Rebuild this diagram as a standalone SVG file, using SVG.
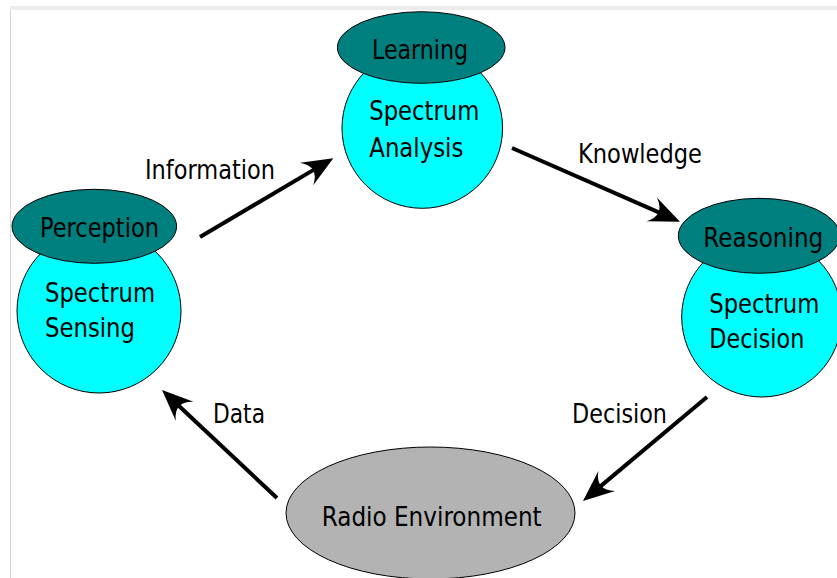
<svg xmlns="http://www.w3.org/2000/svg" width="837" height="578" viewBox="0 0 837 578">
<style>
.t{font-family:"DejaVu Sans Condensed","DejaVu Sans",sans-serif;font-stretch:condensed;font-size:27px;fill:#000}
.top{fill:#007f7f;stroke:#000;stroke-width:1}
.body{fill:#00ffff;stroke:#000;stroke-width:1}
.env{fill:#b3b3b3;stroke:#000;stroke-width:1}
.arrow{stroke:#000;stroke-width:4;fill:none;marker-end:url(#head)}
</style>
<defs>
<marker id="head" markerUnits="userSpaceOnUse" viewBox="-34 -15 36 30" markerWidth="36" markerHeight="30" refX="-20" refY="0" orient="auto">
<path d="M0,0 L-31,-13 Q-16,0 -31,13 Z" fill="#000"/>
</marker>
</defs>
<rect x="0" y="0" width="837" height="578" fill="#fff"/>
<rect x="10" y="6" width="827" height="4" fill="#ececec"/>
<line x1="10.5" y1="10" x2="10.5" y2="578" stroke="#d6d6d6" stroke-width="1"/>

<g id="connectors">
<line class="arrow" x1="200" y1="237" x2="316.1" y2="168.4"/>
<line class="arrow" x1="512" y1="148" x2="661.7" y2="213.7"/>
<line class="arrow" x1="707" y1="397" x2="598.3" y2="488.1"/>
<line class="arrow" x1="277" y1="498" x2="176.6" y2="403.7"/>
<text class="t" x="145" y="179" textLength="130" lengthAdjust="spacingAndGlyphs">Information</text>
<text class="t" x="578" y="163" textLength="124" lengthAdjust="spacingAndGlyphs">Knowledge</text>
<text class="t" x="572" y="423" textLength="95" lengthAdjust="spacingAndGlyphs">Decision</text>
<text class="t" x="213" y="423" textLength="52" lengthAdjust="spacingAndGlyphs">Data</text>
</g>

<g id="spectrum-analysis">
<circle class="body" cx="422.3" cy="128" r="80.3"/>
<ellipse class="top" cx="421.2" cy="47.5" rx="83.8" ry="35.8"/>
<text class="t" x="372" y="59" textLength="96" lengthAdjust="spacingAndGlyphs">Learning</text>
<text class="t" x="369.3" y="120" textLength="110" lengthAdjust="spacingAndGlyphs">Spectrum</text>
<text class="t" x="369.3" y="157" textLength="94" lengthAdjust="spacingAndGlyphs">Analysis</text>
</g>

<g id="spectrum-sensing">
<circle class="body" cx="99" cy="311" r="82"/>
<ellipse class="top" cx="94.3" cy="226.3" rx="82.3" ry="37"/>
<text class="t" x="40" y="237" textLength="119" lengthAdjust="spacingAndGlyphs">Perception</text>
<text class="t" x="45" y="302" textLength="110" lengthAdjust="spacingAndGlyphs">Spectrum</text>
<text class="t" x="45" y="337" textLength="90" lengthAdjust="spacingAndGlyphs">Sensing</text>
</g>

<g id="spectrum-decision">
<circle class="body" cx="761.7" cy="317" r="80"/>
<ellipse class="top" cx="759" cy="235.8" rx="80.7" ry="37.5"/>
<text class="t" x="703.3" y="247" textLength="120" lengthAdjust="spacingAndGlyphs">Reasoning</text>
<text class="t" x="709.3" y="313" textLength="110" lengthAdjust="spacingAndGlyphs">Spectrum</text>
<text class="t" x="709.3" y="348" textLength="95" lengthAdjust="spacingAndGlyphs">Decision</text>
</g>

<g id="radio-environment">
<ellipse class="env" cx="430.5" cy="513" rx="144.5" ry="66"/>
<text class="t" x="321.7" y="526" textLength="220" lengthAdjust="spacingAndGlyphs">Radio Environment</text>
</g>
</svg>
